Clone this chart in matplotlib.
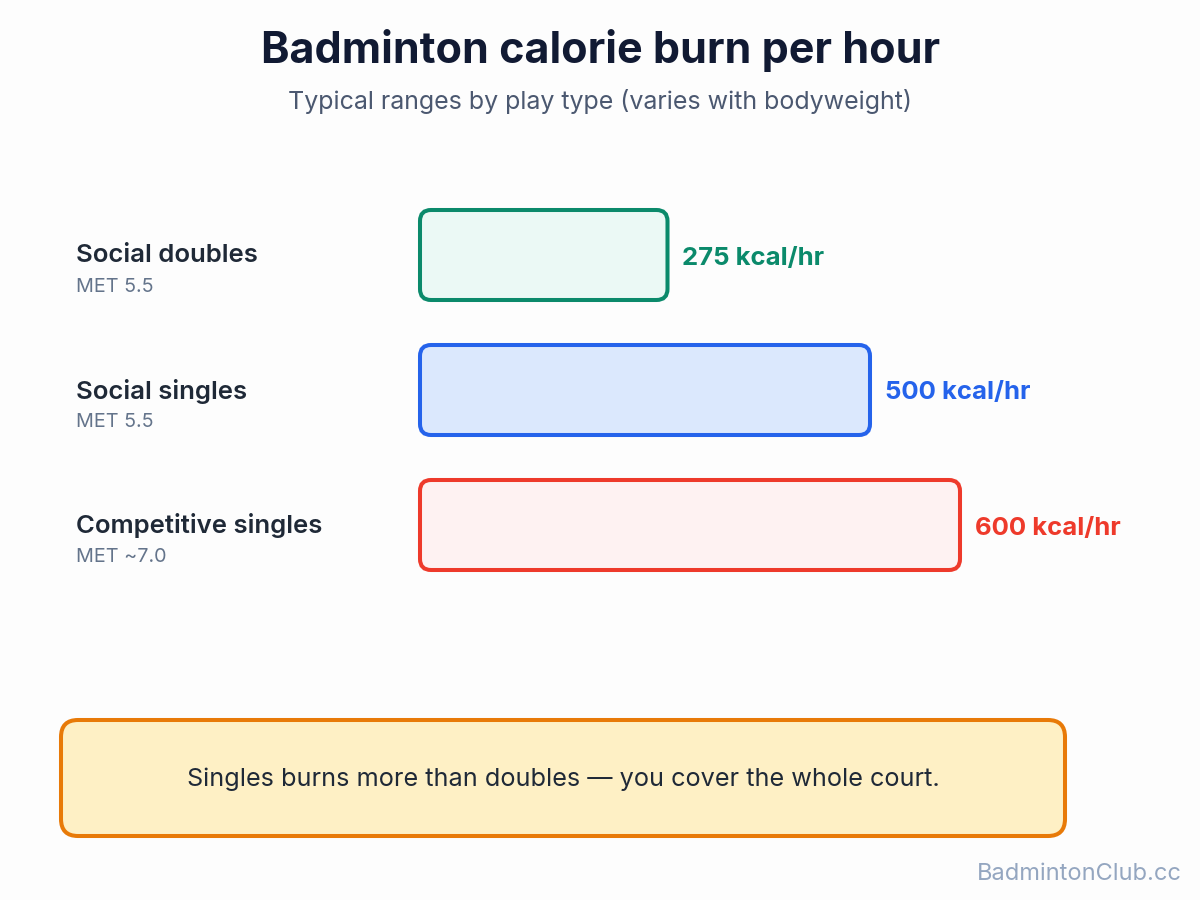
import matplotlib
matplotlib.use("Agg")
import matplotlib.pyplot as plt
from matplotlib.patches import FancyBboxPatch
from matplotlib.transforms import Affine2D

plt.rcParams['font.family'] = ['Inter', 'DejaVu Sans']

# ---- data ----
categories = ["Social doubles", "Social singles", "Competitive singles"]
met_labels = ["MET 5.5", "MET 5.5", "MET ~7.0"]
kcal = [275, 500, 600]
value_labels = ["275 kcal/hr", "500 kcal/hr", "600 kcal/hr"]
title = "Badminton calorie burn per hour"
subtitle = "Typical ranges by play type (varies with bodyweight)"
note = "Singles burns more than doubles \u2014 you cover the whole court."
footer = "BadmintonClub.cc"

edge_colors = ["#0b8a6b", "#2563eb", "#ee3a2b"]
fill_colors = ["#ebf9f5", "#dbe8fd", "#fef2f2"]

W, H = 1200, 900
fig = plt.figure(figsize=(W / 100, H / 100), dpi=100)
fig.patch.set_facecolor("#fdfdfd")

# pixel transform (origin top-left)
px = Affine2D().scale(1 / W, -1 / H).translate(0, 1) + fig.transFigure

fig.text(601, 50, title, transform=px, ha="center", va="center",
         fontsize=31, fontweight="bold", color="#111a33")
fig.text(600, 102, subtitle, transform=px, ha="center", va="center",
         fontsize=18, color="#4b5870")

# ---- bar axes: x 0..800 kcal over px 420..1140, rows 135 px apart ----
ax_left, ax_right = 420, 1140
ax_top, ax_bottom = 187.5, 592.5
ax = fig.add_axes([ax_left / W, 1 - ax_bottom / H,
                   (ax_right - ax_left) / W, (ax_bottom - ax_top) / H])
ax.set_xlim(0, 800)
ax.set_ylim(len(kcal) - 0.5, -0.5)
ax.axis("off")

x_px_per_unit = (ax_right - ax_left) / 800
y_px_per_unit = (ax_bottom - ax_top) / len(kcal)
aspect = x_px_per_unit / y_px_per_unit
bar_h = 90 / y_px_per_unit
radius_px = 11

for i, (v, ec, fc) in enumerate(zip(kcal, edge_colors, fill_colors)):
    r = radius_px / x_px_per_unit
    patch = FancyBboxPatch((0, i - bar_h / 2), v, bar_h,
                           boxstyle=f"round,pad=0,rounding_size={r}",
                           mutation_aspect=aspect,
                           facecolor=fc, edgecolor=ec, linewidth=2.9,
                           clip_on=False)
    ax.add_patch(patch)
    ax.text(v + 15 / x_px_per_unit, i + 3 / y_px_per_unit, value_labels[i],
            ha="left", va="center", fontsize=18.5, fontweight="bold", color=ec,
            clip_on=False)
    # category labels on the left
    ax.text(-344 / x_px_per_unit, i + 1 / y_px_per_unit, categories[i],
            ha="left", va="center", fontsize=18.5, fontweight="semibold",
            color="#1f2937", clip_on=False)
    ax.text(-344 / x_px_per_unit, i + 32 / y_px_per_unit, met_labels[i],
            ha="left", va="center", fontsize=14.2, color="#64748b", clip_on=False)

# ---- callout box ----
box = FancyBboxPatch((61, 720), 1004, 116, boxstyle="round,pad=0,rounding_size=17",
                     transform=px, facecolor="#fef0c5", edgecolor="#e87a08",
                     linewidth=2.9, zorder=2)
fig.patches.append(box)
fig.text(563, 779, note, transform=px, ha="center", va="center",
         fontsize=18.2, color="#1f2937", zorder=3)

fig.text(1182, 874, footer, transform=px, ha="right", va="center",
         fontsize=17, color="#94a6c0")

fig.savefig("out.png", dpi=100, facecolor=fig.get_facecolor())
